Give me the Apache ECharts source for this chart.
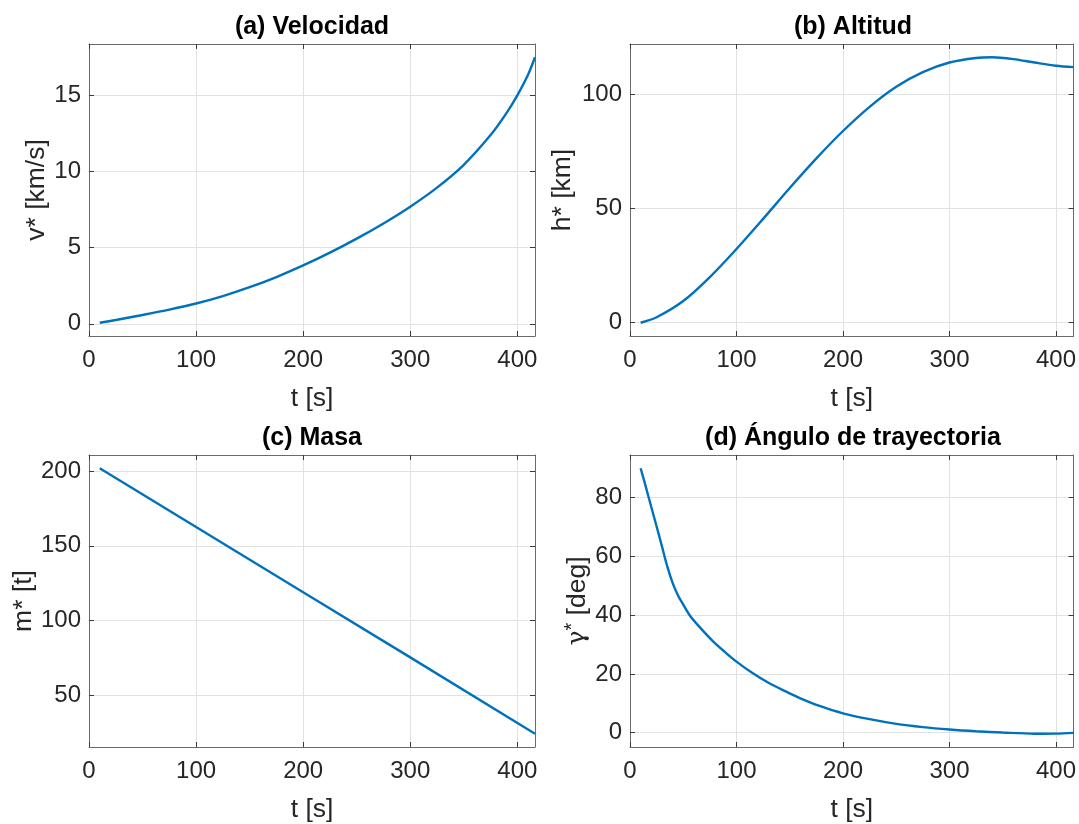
<!DOCTYPE html>
<html>
<head>
<meta charset="utf-8">
<script src="https://cdn.jsdelivr.net/npm/echarts@6/dist/echarts.min.js"></script>
<style>
  html, body { margin: 0; padding: 0; background: #ffffff; }
  #chart { width: 1079px; height: 824px; }
</style>
</head>
<body>
<div id="chart"></div>
<script>
// Optimal ascent trajectory: state histories against time
const xTicks = [0, 100, 200, 300, 400];
const tEnd = 416.5;

// (a) velocity [km/s]
const tVelocity = [10, 25, 50, 75, 100, 125, 150, 175, 200, 225, 250, 275, 300, 325, 350, 375, 390, 400, 410, 416.5];
const velocity  = [0.07, 0.25, 0.58, 0.93, 1.33, 1.82, 2.40, 3.07, 3.83, 4.67, 5.59, 6.59, 7.69, 8.94, 10.44, 12.39, 13.85, 15.0, 16.35, 17.5];
const velocityTicks = [0, 5, 10, 15];

// (b) altitude [km]
const tAltitude = [10, 25, 50, 75, 100, 125, 150, 175, 200, 225, 250, 275, 300, 325, 340, 360, 380, 400, 416.5];
const altitude  = [0, 2.4, 9.5, 20, 32.3, 45.5, 59, 72, 84, 94.6, 103.4, 109.8, 114, 116, 116.3, 115.5, 114, 112.6, 112];
const altitudeTicks = [0, 50, 100];

// (c) mass [t]
const tMass = [10, 100, 200, 300, 416.5];
const mass  = [202, 162.6, 118.9, 75.2, 24];
const massTicks = [50, 100, 150, 200];

// (d) flight path angle [deg]
const tGamma = [10, 15, 20, 25, 30, 35, 40, 45, 50, 56, 65, 78, 90, 100, 115, 130, 147, 160, 178, 200, 225, 250, 275, 300, 325, 350, 380, 400, 416.5];
const gamma  = [90, 83.5, 76.8, 70.2, 63.4, 56.6, 51, 46.8, 43.6, 40, 36.1, 31.1, 27.2, 24.2, 20.3, 17.0, 13.9, 11.7, 9.1, 6.6, 4.6, 3.0, 1.9, 1.1, 0.5, 0.05, -0.35, -0.3, -0.05];
const gammaTicks = [0, 20, 40, 60, 80];

const FONT = '"Liberation Sans", Arial, Helvetica, sans-serif';
const INK = '#262626';
const EDGE = '#6a6a6a';
const TICK = '#3a3a3a';
const GRID_LINE = '#e2e2e2';
const BLUE = '#0072BD';

const W = 446, H = 292;
const boxes = [
  { left: 89, top: 44 },
  { left: 630, top: 44 },
  { left: 89, top: 455 },
  { left: 630, top: 455 }
];

const panels = [
  { title: '(a) Velocidad', label: 'v* [km/s]', t: tVelocity, y: velocity, ticks: velocityTicks, nameGap: 38, smooth: 0.3 },
  { title: '(b) Altitud', label: 'h* [km]', t: tAltitude, y: altitude, ticks: altitudeTicks, nameGap: 54, smooth: 0.3 },
  { title: '(c) Masa', label: 'm* [t]', t: tMass, y: mass, ticks: massTicks, nameGap: 51, smooth: false },
  { title: '(d) Ángulo de trayectoria', label: '{g|γ}{s|*}{n| [deg]}', t: tGamma, y: gamma, ticks: gammaTicks, nameGap: 37, smooth: 0.3 }
];

// limits padded by 5% of the data span
function padded(values) {
  const lo = Math.min(...values), hi = Math.max(...values);
  const p = (hi - lo) * 0.05;
  return [lo - p, hi + p];
}

const grid = [], xAxis = [], yAxis = [], series = [], graphic = [];

// unlabelled axis that closes the box on the top / right side
function edgeAxis(extra, ticks) {
  return Object.assign({
    type: 'value',
    axisLine: { show: true, onZero: false, lineStyle: { color: EDGE, width: 1 } },
    axisTick: { show: true, inside: true, length: 5, customValues: ticks, lineStyle: { color: TICK, width: 1 } },
    axisLabel: { show: false },
    splitLine: { show: false }
  }, extra);
}

panels.forEach((p, i) => {
  const b = boxes[i];
  grid.push({ left: b.left, top: b.top, width: W, height: H, containLabel: false });
  const [ymin, ymax] = padded(p.y);

  xAxis.push({
    type: 'value', gridIndex: i, position: 'bottom', min: 0, max: tEnd,
    name: 't [s]', nameLocation: 'middle', nameGap: 49,
    nameTextStyle: { fontFamily: FONT, fontSize: 26.5, color: INK },
    axisLine: { show: true, onZero: false, lineStyle: { color: EDGE, width: 1 } },
    axisTick: { show: true, inside: true, length: 5, customValues: xTicks, lineStyle: { color: TICK, width: 1 } },
    axisLabel: { show: true, customValues: xTicks, margin: 12, fontFamily: FONT, fontSize: 24, color: INK },
    splitLine: { show: true, lineStyle: { color: GRID_LINE, width: 1 } }
  });
  xAxis.push(edgeAxis({ gridIndex: i, position: 'top', min: 0, max: tEnd }, xTicks));

  yAxis.push({
    type: 'value', gridIndex: i, position: 'left', min: ymin, max: ymax,
    name: p.label, nameLocation: 'middle', nameGap: p.nameGap,
    nameTextStyle: {
      fontFamily: FONT, fontSize: 26.5, color: INK,
      rich: {
        g: { fontFamily: '"DejaVu Serif", serif', fontSize: 25, color: INK, lineHeight: 30 },
        s: { fontFamily: FONT, fontSize: 20, color: INK, lineHeight: 10, verticalAlign: 'top' },
        n: { fontFamily: FONT, fontSize: 26.5, color: INK, lineHeight: 30 }
      }
    },
    axisLine: { show: true, onZero: false, lineStyle: { color: EDGE, width: 1 } },
    axisTick: { show: true, inside: true, length: 5, customValues: p.ticks, lineStyle: { color: TICK, width: 1 } },
    axisLabel: { show: true, customValues: p.ticks, margin: 8, fontFamily: FONT, fontSize: 24, color: INK },
    splitLine: { show: true, lineStyle: { color: GRID_LINE, width: 1 } }
  });
  yAxis.push(edgeAxis({ gridIndex: i, position: 'right', min: ymin, max: ymax }, p.ticks));

  series.push({
    type: 'line', xAxisIndex: 2 * i, yAxisIndex: 2 * i,
    data: p.t.map((t, k) => [t, p.y[k]]),
    showSymbol: false, smooth: p.smooth, silent: true,
    lineStyle: { color: BLUE, width: 2.4 }
  });

  graphic.push({
    type: 'text', x: b.left + W / 2, y: b.top - 17,
    style: { text: p.title, font: 'bold 25px ' + FONT, fill: '#000000', align: 'center', verticalAlign: 'middle' }
  });
});

const chart = echarts.init(document.getElementById('chart'), null, { renderer: 'canvas' });
chart.setOption({
  animation: false,
  backgroundColor: '#ffffff',
  grid, xAxis, yAxis, series, graphic
});
</script>
</body>
</html>
